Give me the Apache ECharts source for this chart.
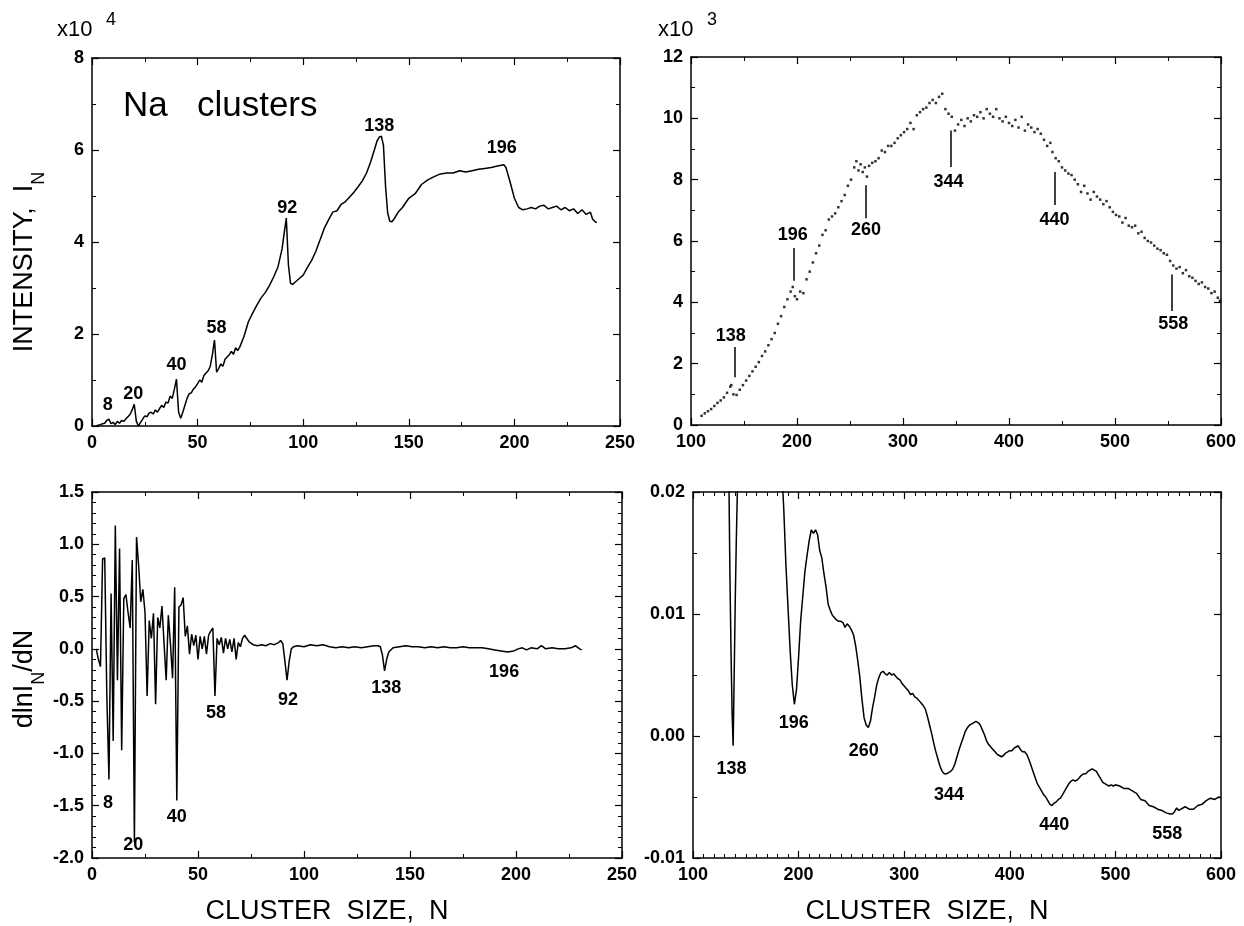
<!DOCTYPE html>
<html>
<head>
<meta charset="utf-8">
<script src="https://cdn.jsdelivr.net/npm/echarts@6/dist/echarts.min.js"></script>
<style>
html, body { margin: 0; padding: 0; background: #fff; }
#container { width: 1244px; height: 926px; }
</style>
</head>
<body>
<div id="container"></div>
<script>
// intensity (x10^4) vs cluster size, small clusters
var intensitySmall = [
  [2,0.00],[3,0.02],[4,0.03],[5,0.05],[6,0.06],[7,0.12],[8,0.15],[9,0.05],[10,0.08],[11,0.03],
  [12,0.10],[13,0.06],[14,0.12],[15,0.10],[16,0.15],[17,0.20],[18,0.25],[19,0.35],[20,0.47],[21,0.10],
  [22,0.00],[23,0.08],[24,0.15],[25,0.22],[26,0.20],[27,0.28],[28,0.30],[29,0.26],[30,0.35],[31,0.30],
  [32,0.38],[33,0.45],[34,0.40],[35,0.52],[36,0.50],[37,0.65],[38,0.60],[39,0.80],[40,1.02],[41,0.30],
  [42,0.17],[43,0.30],[44,0.45],[45,0.60],[46,0.70],[47,0.72],[48,0.80],[49,0.85],[50,0.92],[51,1.00],
  [52,0.95],[53,1.10],[54,1.15],[55,1.20],[56,1.30],[57,1.55],[58,1.87],[59,1.17],[60,1.25],[61,1.35],
  [62,1.30],[63,1.45],[64,1.50],[65,1.55],[66,1.62],[67,1.56],[68,1.70],[69,1.64],[70,1.72],[72,1.95],
  [74,2.26],[76,2.45],[78,2.62],[80,2.78],[82,2.90],[84,3.05],[86,3.24],[88,3.45],[89,3.65],[90,3.85],
  [91,4.20],[92,4.52],[93,3.50],[94,3.10],[95,3.08],[96,3.12],[98,3.20],[100,3.28],[102,3.45],[104,3.60],
  [106,3.80],[108,4.05],[110,4.30],[112,4.48],[114,4.65],[116,4.68],[118,4.82],[120,4.88],[122,4.98],[124,5.08],
  [126,5.20],[128,5.33],[130,5.50],[132,5.75],[134,6.05],[135,6.20],[136,6.28],[137,6.30],[138,6.10],[139,5.20],
  [140,4.63],[141,4.45],[142,4.44],[143,4.50],[145,4.65],[147,4.75],[150,4.95],[153,5.05],[156,5.25],[159,5.35],
  [162,5.42],[165,5.48],[168,5.50],[171,5.50],[174,5.55],[177,5.52],[180,5.55],[183,5.58],[186,5.60],[189,5.62],
  [192,5.65],[195,5.68],[196,5.62],[198,5.30],[200,4.95],[202,4.75],[204,4.70],[206,4.72],[208,4.75],[210,4.72],
  [212,4.78],[214,4.80],[216,4.72],[218,4.75],[220,4.78],[222,4.70],[224,4.75],[226,4.68],[228,4.72],[230,4.62],
  [232,4.70],[234,4.60],[236,4.65],[237,4.50],[238,4.45],[239,4.42]
];

// intensity (x10^3) vs cluster size, large clusters (dots)
var intensityLarge = [
  [110,0.30],[113,0.38],[116,0.45],[119,0.52],[122,0.62],[125,0.72],[128,0.80],[131,0.90],[134,1.05],[137,1.25],
  [138,1.30],[140,1.00],[143,0.98],[146,1.15],[149,1.30],[152,1.45],[155,1.60],[158,1.75],[161,1.90],[164,2.05],
  [167,2.25],[170,2.40],[173,2.60],[176,2.80],[179,3.00],[182,3.30],[185,3.55],[188,3.85],[191,4.10],[194,4.35],
  [196,4.50],[198,4.20],[200,4.10],[203,4.35],[206,4.30],[209,4.75],[212,5.00],[215,5.30],[218,5.60],[221,5.85],
  [224,6.20],[227,6.35],[230,6.70],[233,6.80],[236,6.90],[239,7.10],[242,7.30],[245,7.50],[248,7.80],[251,8.00],
  [254,8.40],[256,8.60],[258,8.30],[260,8.50],[262,8.25],[264,8.40],[266,8.10],[268,8.45],[271,8.55],[274,8.60],
  [277,8.70],[280,8.95],[283,8.90],[286,9.10],[289,9.10],[292,9.20],[295,9.35],[298,9.45],[301,9.55],[304,9.65],
  [307,9.85],[310,9.65],[313,10.10],[316,10.20],[319,10.30],[322,10.35],[325,10.50],[328,10.60],[331,10.50],[334,10.70],
  [337,10.80],[340,10.30],[343,10.15],[346,10.05],[349,9.60],[352,9.80],[355,9.95],[358,9.75],[361,10.00],[364,9.90],
  [367,10.10],[370,10.05],[373,10.20],[376,10.00],[379,10.30],[382,10.15],[385,10.05],[388,10.30],[391,10.00],[394,9.90],
  [397,10.05],[400,9.85],[403,9.75],[406,9.95],[409,9.70],[412,10.05],[415,9.60],[418,9.80],[421,9.70],[424,9.55],
  [427,9.65],[430,9.50],[433,9.30],[436,9.10],[439,9.20],[441,8.90],[444,8.70],[447,8.60],[450,8.40],[453,8.30],
  [456,8.20],[459,8.15],[462,8.00],[465,7.85],[468,7.60],[471,7.80],[474,7.55],[477,7.35],[480,7.60],[483,7.45],
  [486,7.35],[489,7.20],[492,7.30],[495,7.10],[498,6.95],[501,6.85],[504,6.80],[507,6.60],[510,6.75],[513,6.50],
  [516,6.45],[519,6.50],[522,6.25],[525,6.30],[528,6.10],[531,6.00],[534,5.95],[537,5.85],[540,5.75],[543,5.70],
  [546,5.60],[549,5.55],[552,5.35],[555,5.20],[558,5.10],[561,5.15],[564,4.95],[567,5.05],[570,4.85],[573,4.80],
  [576,4.70],[579,4.60],[582,4.65],[585,4.50],[588,4.45],[591,4.30],[594,4.35],[597,4.15],[599,4.05]
];

// d ln I / dN, small clusters
var derivSmall = [
  [2,0.00],[3,-0.10],[4,-0.17],[5,0.86],[6,0.87],[7,-0.45],[8,-1.25],[9,0.53],[10,-0.88],[11,1.18],
  [12,-0.30],[13,0.96],[14,-0.97],[15,0.48],[16,0.52],[17,0.35],[18,0.20],[19,0.85],[20,-1.85],[21,1.07],
  [22,0.80],[23,0.45],[24,0.57],[25,0.35],[26,-0.45],[27,0.27],[28,0.10],[29,0.34],[30,-0.53],[31,0.30],
  [32,0.20],[33,0.41],[34,0.05],[35,-0.30],[36,0.32],[37,0.05],[38,-0.28],[39,0.59],[40,-1.45],[41,0.40],
  [42,0.42],[43,0.49],[44,0.12],[45,0.22],[46,-0.05],[47,0.14],[48,0.03],[49,0.13],[50,-0.10],[51,0.12],
  [52,0.00],[53,0.12],[54,-0.05],[55,0.13],[56,0.17],[57,0.20],[58,-0.45],[59,0.10],[60,0.04],[61,0.11],
  [62,-0.04],[63,0.10],[64,0.00],[65,0.09],[66,-0.03],[67,0.10],[68,-0.10],[69,0.06],[70,0.02],[71,0.10],
  [72,0.13],[74,0.07],[76,0.04],[78,0.03],[80,0.04],[82,0.03],[84,0.05],[86,0.04],[88,0.06],[89,0.08],
  [90,0.05],[91,-0.12],[92,-0.30],[93,-0.12],[94,0.00],[95,0.02],[97,0.03],[100,0.02],[103,0.04],[106,0.03],
  [109,0.04],[112,0.02],[115,0.01],[118,0.02],[121,0.01],[124,0.02],[127,0.01],[130,0.02],[133,0.03],[135,0.03],
  [136,0.02],[137,-0.06],[138,-0.21],[139,-0.10],[140,-0.03],[142,0.01],[145,0.02],[148,0.03],[151,0.02],[154,0.02],
  [157,0.01],[160,0.02],[163,0.01],[166,0.02],[169,0.01],[172,0.01],[175,0.02],[178,0.01],[181,0.01],[184,0.01],
  [187,0.00],[190,-0.01],[193,-0.02],[196,-0.03],[199,-0.02],[201,0.00],[203,0.01],[205,-0.01],[207,0.01],[210,0.00],
  [212,0.03],[214,0.00],[217,0.01],[220,0.00],[223,0.00],[226,0.01],[228,0.03],[230,0.00],[231,-0.01]
];

// d ln I / dN, large clusters
var derivLarge = [
  [132,0.0300],[134,0.0210],[135,0.0130],[136,0.0070],[137,0.0020],[138,-0.0008],[139,0.0050],[140,0.0110],[141,0.0160],[142,0.0200],
  [143,0.0260],[150,0.0400],[170,0.0450],[180,0.0320],[184,0.0220],[186,0.0185],[188,0.0140],[190,0.0105],[192,0.0070],[194,0.0042],
  [196,0.0026],[198,0.0038],[200,0.0065],[202,0.0095],[204,0.0115],[206,0.0135],[208,0.0148],[210,0.0160],[212,0.0169],[214,0.0166],
  [216,0.0169],[218,0.0165],[220,0.0152],[222,0.0146],[224,0.0133],[226,0.0122],[228,0.0108],[230,0.0103],[232,0.0099],[234,0.0097],
  [236,0.0095],[238,0.0094],[240,0.0094],[242,0.0093],[244,0.0089],[246,0.0092],[248,0.0090],[250,0.0087],[252,0.0083],[254,0.0074],
  [256,0.0062],[258,0.0048],[260,0.0030],[262,0.0015],[264,0.0009],[266,0.0007],[268,0.0012],[270,0.0023],[272,0.0032],[274,0.0042],
  [276,0.0048],[278,0.0052],[280,0.0053],[282,0.0051],[284,0.0050],[286,0.0052],[288,0.0050],[290,0.0051],[292,0.0049],[294,0.0047],
  [296,0.0046],[298,0.0043],[300,0.0041],[302,0.0039],[304,0.0037],[306,0.0034],[308,0.0035],[310,0.0032],[312,0.0031],[314,0.0029],
  [316,0.0027],[318,0.0025],[320,0.0022],[322,0.0016],[324,0.0009],[326,0.0002],[328,-0.0006],[330,-0.0013],[332,-0.0019],[334,-0.0025],
  [336,-0.0029],[338,-0.0031],[340,-0.0031],[342,-0.0030],[344,-0.0029],[346,-0.0027],[348,-0.0023],[350,-0.0017],[352,-0.0011],[354,-0.0006],
  [356,-0.0001],[358,0.0004],[360,0.0007],[362,0.0009],[364,0.0010],[366,0.0011],[368,0.0012],[370,0.0011],[372,0.0009],[374,0.0005],
  [376,0.0001],[378,-0.0004],[380,-0.0007],[382,-0.0009],[384,-0.0011],[386,-0.0013],[388,-0.0015],[390,-0.0016],[392,-0.0017],[394,-0.0016],
  [396,-0.0014],[398,-0.0013],[400,-0.0012],[402,-0.0012],[404,-0.0010],[406,-0.0009],[408,-0.0008],[410,-0.0011],[412,-0.0013],[414,-0.0013],
  [416,-0.0015],[418,-0.0019],[420,-0.0024],[422,-0.0029],[424,-0.0034],[426,-0.0039],[428,-0.0042],[430,-0.0045],[432,-0.0048],[434,-0.0050],
  [436,-0.0053],[438,-0.0056],[440,-0.0057],[442,-0.0055],[444,-0.0054],[446,-0.0052],[448,-0.0051],[450,-0.0048],[452,-0.0045],[454,-0.0042],
  [456,-0.0039],[458,-0.0037],[460,-0.0036],[462,-0.0037],[464,-0.0036],[466,-0.0034],[468,-0.0032],[470,-0.0031],[472,-0.0031],[474,-0.0029],
  [476,-0.0028],[478,-0.0027],[480,-0.0028],[482,-0.0029],[484,-0.0032],[486,-0.0035],[488,-0.0038],[490,-0.0039],[492,-0.0040],[494,-0.0041],
  [496,-0.0040],[498,-0.0041],[500,-0.0040],[504,-0.0041],[508,-0.0043],[512,-0.0043],[516,-0.0045],[520,-0.0047],[524,-0.0052],[528,-0.0053],
  [532,-0.0057],[536,-0.0058],[540,-0.0060],[544,-0.0061],[548,-0.0063],[552,-0.0064],[554,-0.0064],[556,-0.0062],[558,-0.0059],[560,-0.0061],
  [562,-0.0060],[566,-0.0058],[570,-0.0060],[574,-0.0060],[578,-0.0057],[582,-0.0056],[586,-0.0053],[590,-0.0051],[594,-0.0052],[598,-0.0050],
  [600,-0.0051]
];

// magic-number annotations: [N, y, text]
var peaks1 = [[7.5,0.46,'8'],[19.5,0.70,'20'],[40,1.33,'40'],[59,2.13,'58'],[92.4,4.74,'92'],[136,6.52,'138'],[194,6.05,'196']];
var peaks2 = [[137.5,2.91,'138'],[196,6.20,'196'],[265,6.36,'260'],[343,7.93,'344'],[443,6.69,'440'],[555,3.29,'558']];
var peaks3 = [[7.5,-1.47,'8'],[19.5,-1.88,'20'],[40,-1.61,'40'],[58.5,-0.61,'58'],[92.4,-0.49,'92'],[138.8,-0.37,'138'],[194.4,-0.22,'196']];
var peaks4 = [[136.5,-0.0027,'138'],[195.5,0.0011,'196'],[261.7,-0.0012,'260'],[342.5,-0.0048,'344'],[442,-0.0073,'440'],[549,-0.0080,'558']];
// marker strokes in the dotted panel: [N, yFrom, yTo]
var marks2 = [[141,1.56,2.54],[197,4.70,5.77],[265,6.74,7.82],[345,8.41,9.60],[443,7.17,8.25],[554,3.72,4.91]];

var FONT = '"Liberation Sans", Arial, sans-serif';
var myChart = echarts.init(document.getElementById('container'));

function tickLabel(fmt) {
    return {show: true, color: '#000', fontFamily: FONT, fontSize: 18, fontWeight: 'bold',
        margin: 8, showMinLabel: true, showMaxLabel: true, formatter: fmt};
}
function axisPair(kind, g, min, max, step, minor, fmt, name, shift) {
    var list = [];
    for (var k = 0; k < 2; k++) {
        var a = {
            gridIndex: g, type: 'value', min: min, max: max, interval: step,
            position: kind == 'x' ? (k == 0 ? 'bottom' : 'top') : (k == 0 ? 'left' : 'right'),
            splitLine: {show: false},
            axisLine: {show: true, onZero: false, lineStyle: {color: '#000', width: 1.5}},
            axisTick: {show: true, inside: true, length: 7, lineStyle: {color: '#000', width: 1.2}},
            minorTick: {show: true, splitNumber: minor, length: 4, lineStyle: {color: '#000', width: 1}},
            axisLabel: k == 0 ? tickLabel(fmt) : {show: false}
        };
        if (k == 0 && name) {
            a.name = name;
            a.nameLocation = 'middle';
            if (kind == 'x') {
                a.nameGap = 40;
                a.nameTextStyle = {color: '#000', fontFamily: FONT, fontSize: 27, padding: [0, shift, 0, 0]};
            } else {
                a.nameGap = 44;
                a.nameRotate = 90;
                a.nameTextStyle = {color: '#000', fontFamily: FONT, fontSize: 27, lineHeight: 30,
                    padding: [0, shift, 0, 0],
                    rich: {sub: {fontSize: 18, fontFamily: FONT, color: '#000', lineHeight: 46, verticalAlign: 'bottom'}}};
            }
        }
        list.push(a);
    }
    return list;
}

var xAxes = [].concat(
    axisPair('x', 0, 0, 250, 50, 2, null, null, 0),
    axisPair('x', 1, 100, 600, 100, 2, null, null, 0),
    axisPair('x', 2, 0, 250, 50, 2, null, 'CLUSTER  SIZE,  N', 60),
    axisPair('x', 3, 100, 600, 100, 10, null, 'CLUSTER  SIZE,  N', 60)
);
var yAxes = [].concat(
    axisPair('y', 0, 0, 8, 2, 2, null, 'INTENSITY,  I{sub|N}', 40),
    axisPair('y', 1, 0, 12, 2, 2, null, null, 0),
    axisPair('y', 2, -2, 1.5, 0.5, 5, function (v) { return v.toFixed(1); }, 'dlnI{sub|N}/dN', 8),
    axisPair('y', 3, -0.01, 0.02, 0.01, 2, function (v) { return v.toFixed(2); }, null, 0)
);

// peak labels drawn at data coordinates through the axis scales
function peakSeries(idx, arr) {
    return {
        type: 'custom', xAxisIndex: idx * 2, yAxisIndex: idx * 2, silent: true,
        data: arr.map(function (p) { return [p[0], p[1]]; }),
        renderItem: function (params, api) {
            var pt = api.coord([api.value(0), api.value(1)]);
            return {
                type: 'text', x: pt[0], y: pt[1],
                style: {text: arr[params.dataIndex][2], fill: '#000', font: 'bold 18px ' + FONT,
                    align: 'center', verticalAlign: 'middle'}
            };
        }
    };
}
var lineStyle = {color: '#000', width: 1.5};

var option = {
    backgroundColor: '#ffffff',
    animation: false,
    grid: [
        {left: 92, top: 58, width: 528, height: 368},
        {left: 691, top: 57, width: 530, height: 368},
        {left: 92, top: 492, width: 530, height: 368},
        {left: 693, top: 492, width: 528, height: 368}
    ],
    xAxis: xAxes,
    yAxis: yAxes,
    graphic: [
        {type: 'text', left: 57, top: 19, style: {text: 'x10', fill: '#000', font: '22px ' + FONT}},
        {type: 'text', left: 106, top: 11, style: {text: '4', fill: '#000', font: '18px ' + FONT}},
        {type: 'text', left: 658, top: 19, style: {text: 'x10', fill: '#000', font: '22px ' + FONT}},
        {type: 'text', left: 707, top: 11, style: {text: '3', fill: '#000', font: '18px ' + FONT}},
        {type: 'text', left: 123, top: 89, style: {text: 'Na   clusters', fill: '#000', font: '35px ' + FONT}}
    ],
    series: [
        {type: 'line', xAxisIndex: 0, yAxisIndex: 0, showSymbol: false, lineStyle: lineStyle, data: intensitySmall},
        {
            type: 'scatter', xAxisIndex: 2, yAxisIndex: 2, symbol: 'rect', symbolSize: 2.5,
            itemStyle: {color: '#000'}, data: intensityLarge,
            markLine: {
                silent: true, symbol: ['none', 'none'], label: {show: false},
                lineStyle: {color: '#000', width: 1.5, type: 'solid'},
                data: marks2.map(function (m) { return [{coord: [m[0], m[1]]}, {coord: [m[0], m[2]]}]; })
            }
        },
        {type: 'line', xAxisIndex: 4, yAxisIndex: 4, showSymbol: false, lineStyle: lineStyle, data: derivSmall},
        {type: 'line', xAxisIndex: 6, yAxisIndex: 6, showSymbol: false, clip: true, lineStyle: lineStyle, data: derivLarge},
        peakSeries(0, peaks1),
        peakSeries(1, peaks2),
        peakSeries(2, peaks3),
        peakSeries(3, peaks4)
    ]
};
myChart.setOption(option);
</script>
</body>
</html>
